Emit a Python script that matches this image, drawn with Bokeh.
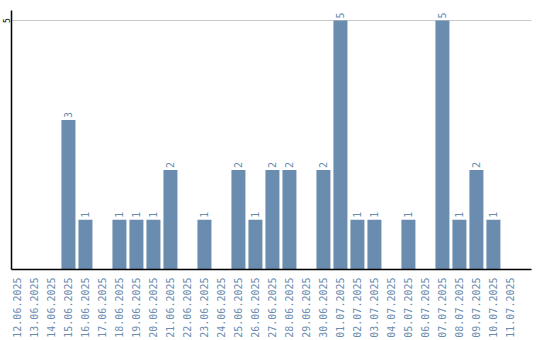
from math import pi
from bokeh.plotting import figure
from bokeh.models import ColumnDataSource, FixedTicker, Range1d
from bokeh.core.properties import value
from bokeh.embed import file_html
from bokeh.resources import INLINE

dates = ["12.06.2025", "13.06.2025", "14.06.2025", "15.06.2025", "16.06.2025",
         "17.06.2025", "18.06.2025", "19.06.2025", "20.06.2025", "21.06.2025",
         "22.06.2025", "23.06.2025", "24.06.2025", "25.06.2025", "26.06.2025",
         "27.06.2025", "28.06.2025", "29.06.2025", "30.06.2025", "01.07.2025",
         "02.07.2025", "03.07.2025", "04.07.2025", "05.07.2025", "06.07.2025",
         "07.07.2025", "08.07.2025", "09.07.2025", "10.07.2025", "11.07.2025"]
counts = [0, 0, 0, 3, 1, 0, 1, 1, 1, 2,
          0, 1, 0, 2, 1, 2, 2, 0, 2, 5,
          1, 1, 0, 1, 0, 5, 1, 2, 1, 0]
y_ticks = [5]

BAR = "#6a8caf"
FONT = "DejaVu Sans Mono"
X_START, X_END = -0.35, 30.24

positions = list(range(len(dates)))
bx = [i for i, c in zip(positions, counts) if c > 0]
by = [c for c in counts if c > 0]
src = ColumnDataSource(dict(x=bx, top=by, label=[str(c) for c in by]))

p = figure(width=540, height=340, output_backend="svg", toolbar_location=None,
           x_range=Range1d(X_START, X_END), y_range=Range1d(0, 5.2),
           min_border_left=0, min_border_right=9, min_border_top=10,
           min_border_bottom=70)
p.outline_line_color = None
p.background_fill_color = "white"
p.border_fill_color = "white"

p.vbar(x="x", top="top", width=14 / 17, source=src, fill_color=BAR, line_color=None)
p.text(x="x", y="top", text="label", source=src, angle=pi / 2,
       text_align="left", text_baseline="middle", y_offset=-2,
       text_font=value(FONT), text_font_size="10px", text_color=BAR)

xa = p.xaxis[0]
xa.ticker = FixedTicker(ticks=positions)
xa.major_label_overrides = {i: d for i, d in enumerate(dates)}
xa.major_label_orientation = pi / 2
xa.major_label_text_font = FONT
xa.major_label_text_font_size = "10px"
xa.major_label_text_color = BAR
xa.major_label_standoff = 2
xa.major_tick_line_color = None
xa.minor_tick_line_color = None
xa.axis_line_color = "black"
xa.axis_line_width = 1.5

ya = p.yaxis[0]
ya.axis_label = None
ya.axis_label_standoff = 0
ya.ticker = FixedTicker(ticks=y_ticks)
ya.major_label_orientation = "vertical"
ya.major_label_text_font = FONT
ya.major_label_text_font_size = "8px"
ya.major_label_text_line_height = 1.0
ya.major_label_text_color = "black"
ya.major_label_standoff = 1
ya.major_tick_line_color = None
ya.major_tick_out = 0
ya.minor_tick_line_color = None
ya.minor_tick_out = 0
ya.axis_line_color = "black"
ya.axis_line_width = 1.5

p.xgrid.grid_line_color = None
p.ygrid.ticker = FixedTicker(ticks=y_ticks)
p.ygrid.grid_line_color = "#c8c8c8"

open("out.html", "w").write(file_html(p, INLINE))
